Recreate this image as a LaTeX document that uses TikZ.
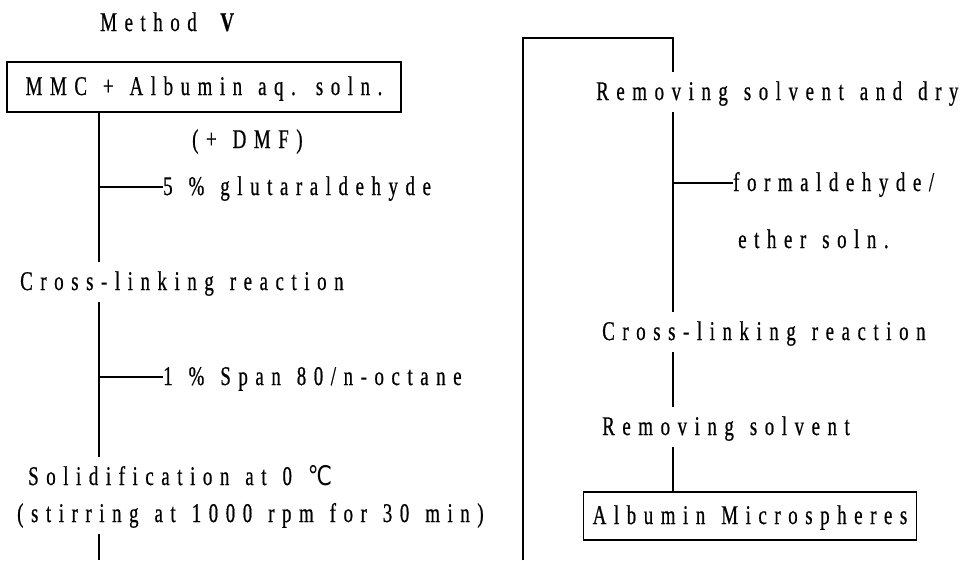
\documentclass[tikz,border=0pt]{standalone}
\usepackage{fontspec}
\setmainfont{Liberation Serif}[FakeStretch=0.7,LetterSpace=28,WordSpace=1.3,FakeBold=0.6]
\newfontfamily\degfont{DejaVu Sans}[FakeStretch=0.8]

\tikzset{
    stepline/.style={line width=1.5pt},
    steptext/.style={font=\fontsize{27}{27}\selectfont, inner sep=0pt, outer ysep=12pt,
        text height=16pt, text depth=0pt, anchor=base west},
    stepbox/.style={draw, line width=1.5pt, font=\fontsize{27}{27}\selectfont, inner sep=0pt,
        text height=16pt, text depth=0pt}
}

\begin{document}
\begin{tikzpicture}[x=1pt,y=-1pt]
    \useasboundingbox (0,0) rectangle (963,560);

    % Left column
    \node[steptext] (title) at (100,31) {Method \textbf{V}};
    \node[stepbox, minimum width=394pt, minimum height=50pt] (start) at (204,87) {MMC + Albumin aq. soln.};
    \node[steptext] (dmf) at (192,148) {(+ DMF)};
    \node[steptext] (glut) at (163,195) {5 \% glutaraldehyde};
    \node[steptext] (cross1) at (20,290) {Cross-linking reaction};
    \node[steptext] (span) at (163,385) {1 \% Span 80/n-octane};
    \node[steptext] (solid) at (28,485) {Solidification at 0 {\degfont ℃}};
    \node[steptext] (stir) at (17,522) {(stirring at 1000 rpm for 30 min)};
    \coordinate (trunkL) at (99,0);
    \coordinate (botleft) at (99,560);

    \draw[stepline] (start.south -| trunkL) -- (cross1.north -| trunkL);
    \draw[stepline] (glut.west -| trunkL) -- (glut.west);
    \draw[stepline] (cross1.south -| trunkL) -- (solid.north -| trunkL);
    \draw[stepline] (span.west -| trunkL) -- (span.west);
    \draw[stepline] (stir.south -| trunkL) -- (botleft);

    % Right column
    \node[steptext] (dry) at (596,100) {Removing solvent and dry};
    \node[steptext] (formal) at (733,191) {formaldehyde/};
    \node[steptext] (ether) at (738,248) {ether soln.};
    \node[steptext] (cross2) at (602,340) {Cross-linking reaction};
    \node[steptext] (remove) at (602,435) {Removing solvent};
    \node[stepbox, minimum width=333pt, minimum height=48pt] (micro) at (750,516) {Albumin Microspheres};
    \coordinate (trunkR) at (673,0);
    \coordinate (wrapbot) at (523,560);
    \coordinate (wraptop) at (523,38);

    \draw[stepline] (wrapbot) -- (wraptop) -| (dry.north -| trunkR);
    \draw[stepline] (dry.south -| trunkR) -- (cross2.north -| trunkR);
    \draw[stepline] (formal.west -| trunkR) -- (formal.west);
    \draw[stepline] (cross2.south -| trunkR) -- (remove.north -| trunkR);
    \draw[stepline] (remove.south -| trunkR) -- (micro.north -| trunkR);

\end{tikzpicture}
\end{document}
